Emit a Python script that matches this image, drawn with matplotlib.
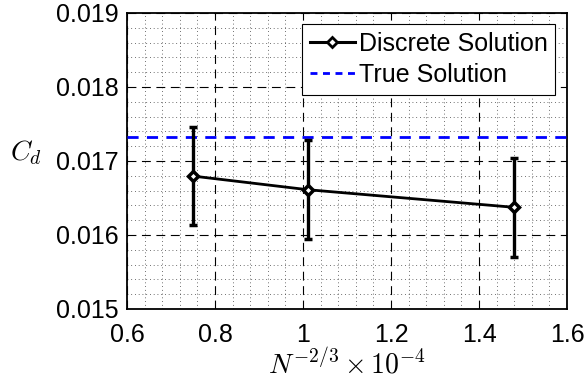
import matplotlib
matplotlib.use('Agg')
import matplotlib.pyplot as plt
from matplotlib.ticker import MultipleLocator
from matplotlib.lines import Line2D

plt.rcParams['font.family'] = ['Liberation Sans', 'DejaVu Sans']
plt.rcParams['mathtext.fontset'] = 'cm'

# data
x_vals = [0.749, 1.011, 1.480]
cd_vals = [0.016797, 0.016612, 0.016374]
cd_err = [0.00066, 0.00067, 0.00067]
cd_true = 0.017329

fig = plt.figure(figsize=(5.87, 3.91), dpi=100)
ax = fig.add_axes([127/587, 1 - 309/391, 440/587, 296/391])

ax.errorbar(x_vals, cd_vals, yerr=cd_err, color='black', lw=2, elinewidth=2.4,
            capsize=3, capthick=2.2, marker='D', ms=5, mfc='white', mec='black',
            mew=2.5, zorder=5)
ax.axhline(cd_true, color='blue', lw=2, ls=(0, (4, 3)), zorder=4)

ax.set_xlim(0.6, 1.6)
ax.set_ylim(0.015, 0.019)
ax.xaxis.set_minor_locator(MultipleLocator(0.04))
ax.yaxis.set_minor_locator(MultipleLocator(0.0002))
ax.set_xticks([0.6, 0.8, 1.0, 1.2, 1.4, 1.6])
ax.set_xticklabels(['0.6', '0.8', '1', '1.2', '1.4', '1.6'])
ax.set_yticks([0.015, 0.016, 0.017, 0.018, 0.019])
ax.set_yticklabels(['0.015', '0.016', '0.017', '0.018', '0.019'])

ax.grid(which='major', color='black', lw=0.8, ls=(0, (8, 5)))
ax.grid(which='minor', color='0.25', lw=0.6, ls=(0, (1, 3.5)))
ax.tick_params(which='both', direction='in', length=0, labelsize=18)
ax.tick_params(axis='x', pad=10)
ax.tick_params(axis='y', pad=6)
for s in ax.spines.values():
    s.set_linewidth(1.3)

ax.set_xlabel(r'$N^{-2/3}\times 10^{-4}$', fontsize=20, labelpad=0)
ax.set_ylabel(r'$C_d$', fontsize=20, rotation=0)
ax.yaxis.set_label_coords(-0.23, 0.48)

handles = [Line2D([0], [0], color='black', lw=2.2, marker='D', ms=5,
                  mfc='white', mec='black', mew=2),
           Line2D([0], [0], color='blue', lw=2, ls=(0, (2.5, 2)))]
leg = ax.legend(handles, ['Discrete Solution', 'True Solution'],
                loc='upper right', fontsize=18, frameon=True, fancybox=False,
                edgecolor='black', framealpha=1, handlelength=1.8,
                handletextpad=0.15, borderpad=0.3, labelspacing=0.3,
                borderaxespad=0, bbox_to_anchor=(0.973, 0.962))
leg.get_frame().set_linewidth(0.8)

fig.savefig('out.png', dpi=100)
